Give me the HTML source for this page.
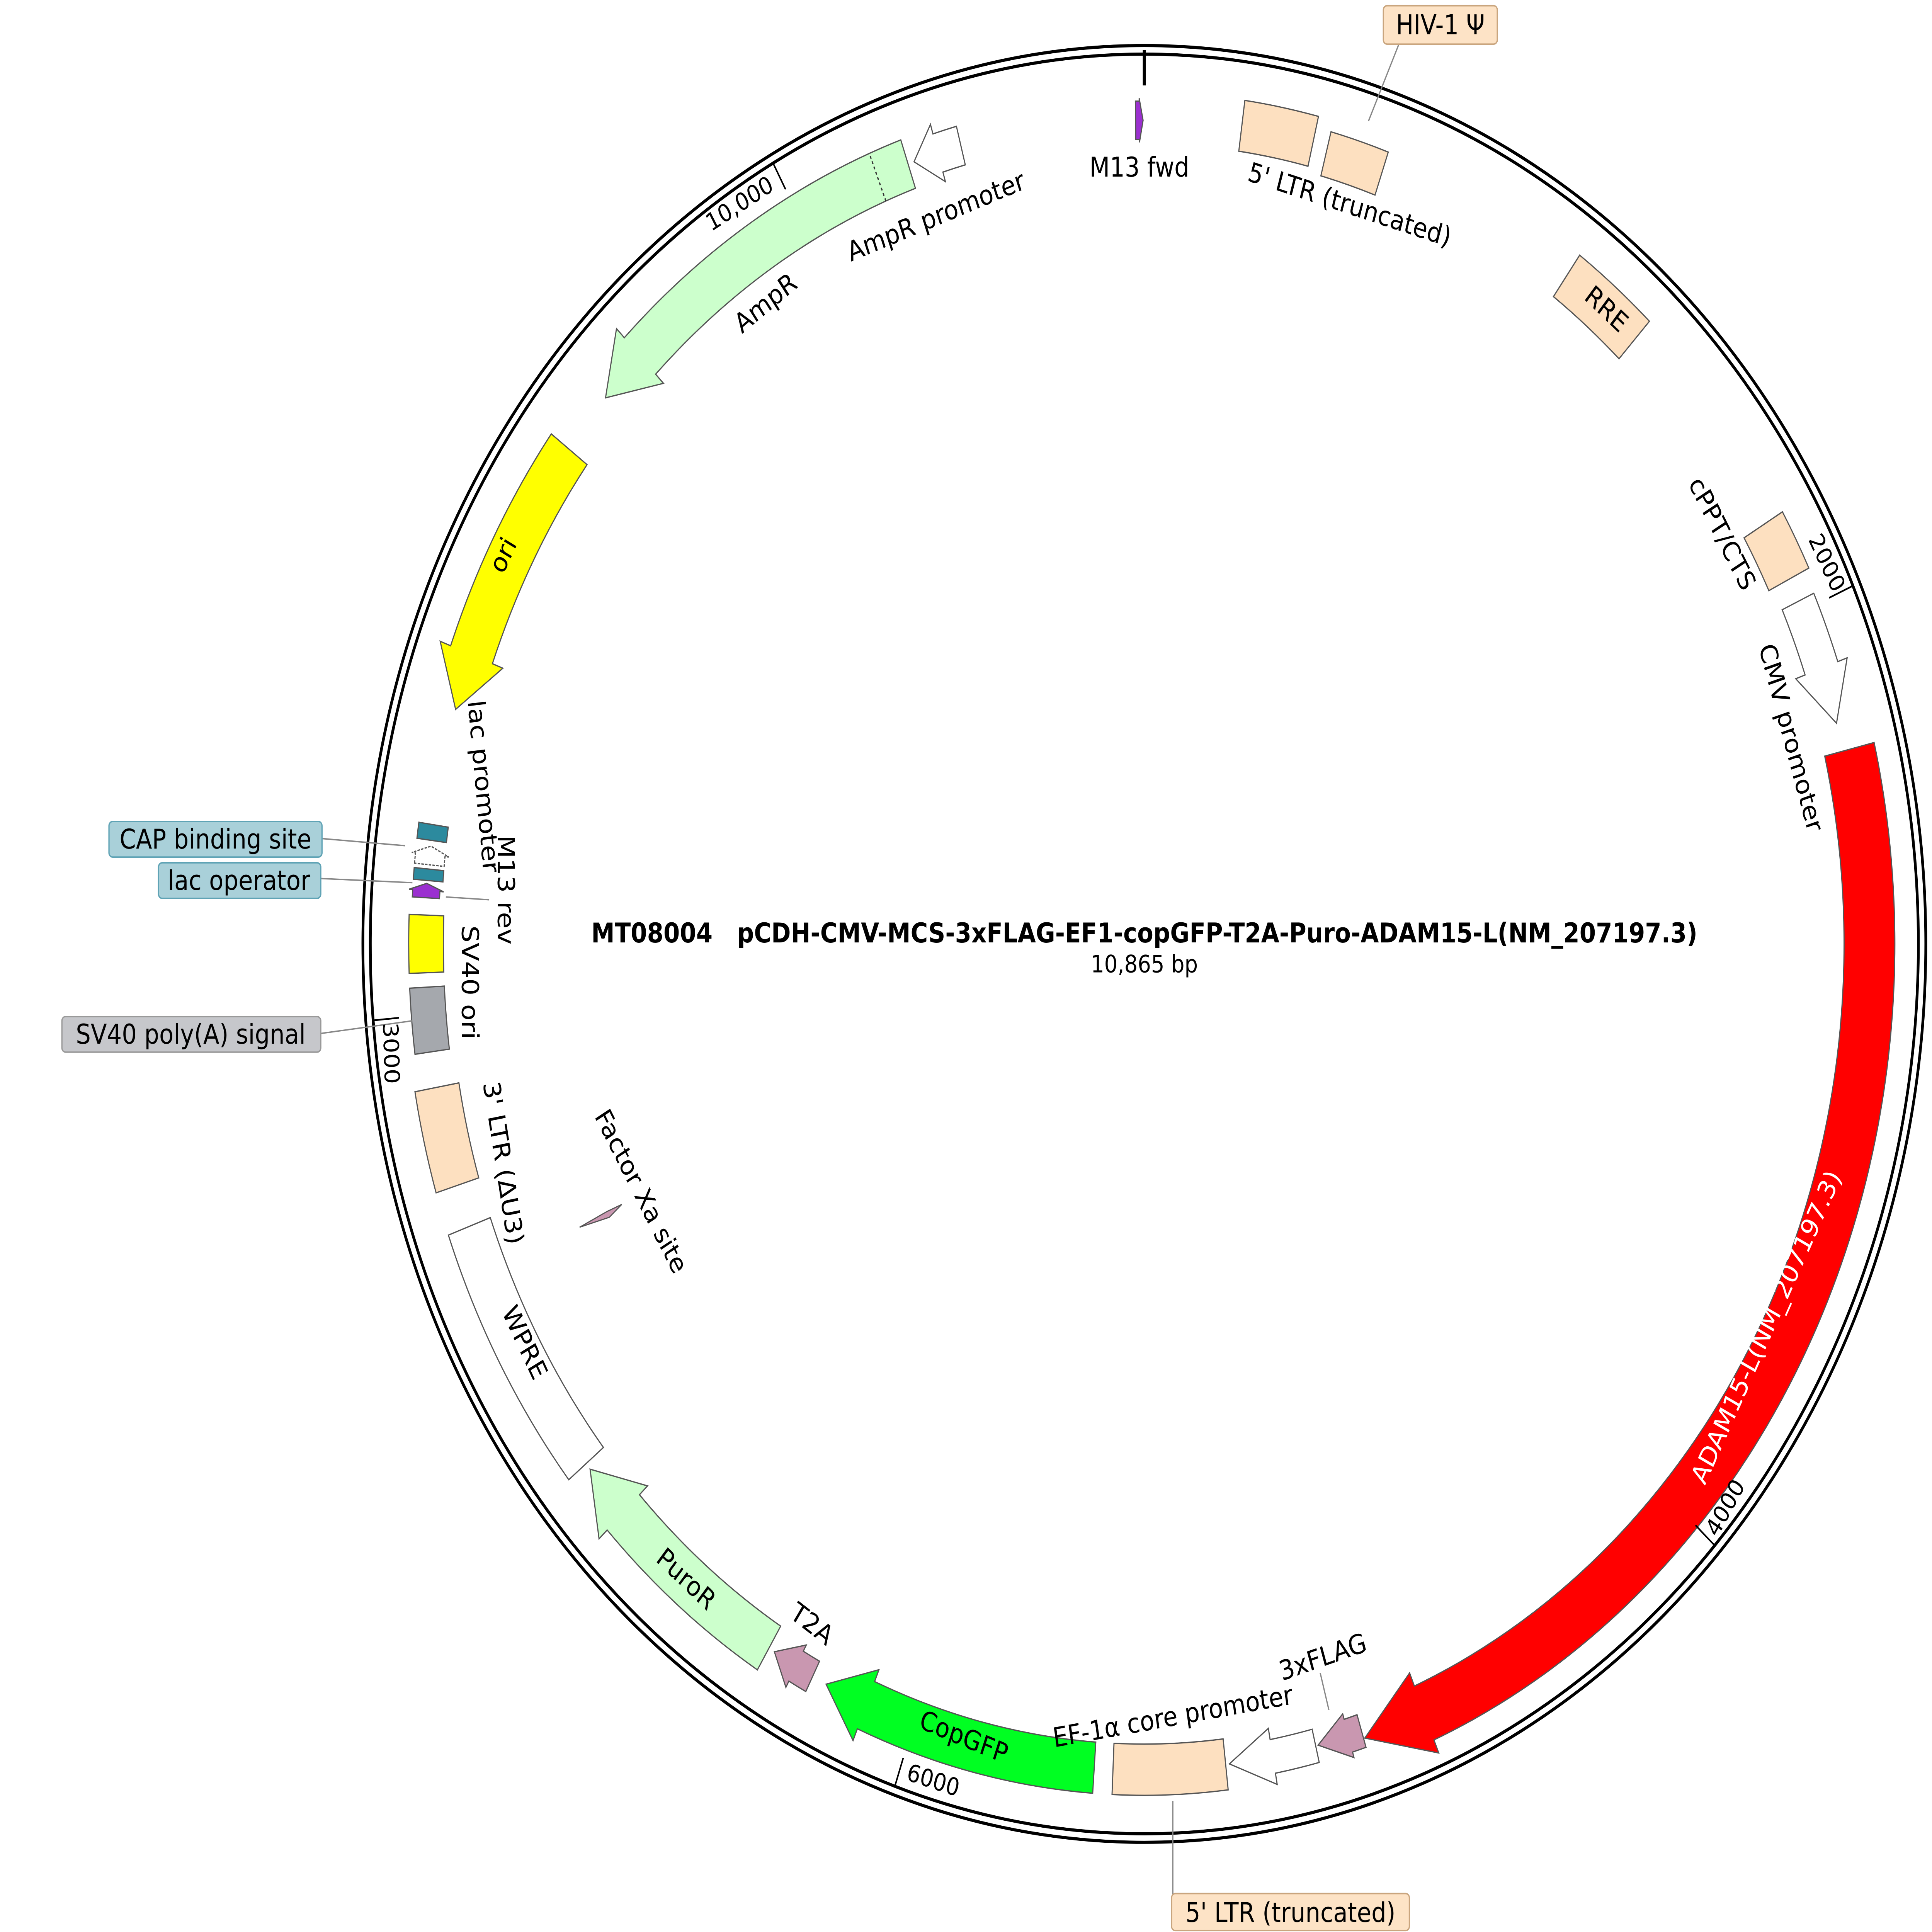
<!DOCTYPE html>
<html><head><meta charset="utf-8">
<style>
html,body{margin:0;padding:0;background:#fff;overflow:hidden;width:100%;height:100%;}
svg{display:block;position:fixed;left:0;top:0;width:100vw;height:100vh;}
text{font-family:"DejaVu Sans","Liberation Sans",sans-serif;fill:#000;}
</style></head>
<body>
<svg id="s" xmlns="http://www.w3.org/2000/svg" viewBox="0 0 1560 1357" preserveAspectRatio="none">
<rect x="0" y="0" width="1560" height="1357" fill="#fff"/>
<circle cx="924" cy="663" r="631" fill="none" stroke="#000" stroke-width="2.2"/>
<circle cx="924" cy="663" r="625" fill="none" stroke="#000" stroke-width="2.2"/>
<line x1="924" y1="35" x2="924" y2="60" stroke="#000" stroke-width="2.5"/>
<g id="f"></g>
<line x1="1105" y1="85" x2="1130" y2="30" stroke="#888" stroke-width="1"/>
<rect x="1117" y="4" width="92" height="27" rx="3" fill="#fde3c6" stroke="#c9a57e" stroke-width="1"/>
<text x="1163" y="24" font-size="19" text-anchor="middle">HIV-1 Ψ</text>
<line x1="947" y1="1265" x2="947" y2="1331" stroke="#888" stroke-width="1"/>
<rect x="946" y="1330" width="192" height="26" rx="3" fill="#fde3c6" stroke="#c9a57e" stroke-width="1"/>
<text x="1042" y="1350" font-size="19" text-anchor="middle">5' LTR (truncated)</text>
<line x1="1066" y1="1175" x2="1073" y2="1201" stroke="#888" stroke-width="1"/>
<line x1="260" y1="589" x2="327" y2="594" stroke="#888" stroke-width="1"/>
<rect x="88" y="577" width="172" height="25" rx="3" fill="#a9d0d9" stroke="#5fa3b5" stroke-width="1"/>
<text x="174" y="596" font-size="19" text-anchor="middle">CAP binding site</text>
<line x1="258" y1="617" x2="333" y2="620" stroke="#888" stroke-width="1"/>
<line x1="360" y1="630" x2="395" y2="632" stroke="#888" stroke-width="1"/>
<rect x="128" y="606" width="131" height="25" rx="3" fill="#a9d0d9" stroke="#5fa3b5" stroke-width="1"/>
<text x="193" y="625" font-size="19" text-anchor="middle">lac operator</text>
<line x1="258" y1="726" x2="333" y2="717" stroke="#888" stroke-width="1"/>
<rect x="50" y="714" width="209" height="25" rx="3" fill="#c6c7cb" stroke="#999" stroke-width="1"/>
<text x="154" y="733" font-size="19" text-anchor="middle">SV40 poly(A) signal</text>
<path d="M468,862 L490,851 L502,846 L492,855 Z" fill="#c997b0" stroke="#555" stroke-width="0.8"/>
<text x="924" y="662" font-size="19" font-weight="bold" text-anchor="middle" xml:space="preserve">MT08004   pCDH-CMV-MCS-3xFLAG-EF1-copGFP-T2A-Puro-ADAM15-L(NM_207197.3)</text>
<text x="924" y="683" font-size="17" text-anchor="middle">10,865 bp</text>
<g font-size="19">
<text x="920" y="124" text-anchor="middle">M13 fwd</text>
<text transform="translate(1088,150) rotate(16)" text-anchor="middle">5' LTR (truncated)</text>
<text transform="translate(1293,222) rotate(40)" text-anchor="middle">RRE</text>
<text transform="translate(1385,378) rotate(60)" text-anchor="middle">cPPT/CTS</text>
<text transform="translate(1470,398) rotate(62)" text-anchor="middle" font-size="17">2000</text>
<text transform="translate(1440,520) rotate(73)" text-anchor="middle">CMV promoter</text>
<text transform="translate(1432,935) rotate(-63)" text-anchor="middle" style="fill:#fff">ADAM15-L(NM_207197.3)</text>
<text transform="translate(1398,1062) rotate(-58)" text-anchor="middle" font-size="17">4000</text>
<text transform="translate(1070,1170) rotate(-17)" text-anchor="middle">3xFLAG</text>
<text transform="translate(948,1212) rotate(-9)" text-anchor="middle">EF-1α core promoter</text>
<text transform="translate(776,1226) rotate(20)" text-anchor="middle">CopGFP</text>
<text transform="translate(752,1256) rotate(16)" text-anchor="middle" font-size="17">6000</text>
<text transform="translate(652,1146) rotate(34)" text-anchor="middle">T2A</text>
<text transform="translate(550,1114) rotate(40)" text-anchor="middle">PuroR</text>
<text transform="translate(418,946) rotate(62)" text-anchor="middle">WPRE</text>
<text transform="translate(400,818) rotate(80)" text-anchor="middle">3' LTR (ΔU3)</text>
<text transform="translate(512,840) rotate(60)" text-anchor="middle">Factor Xa site</text>
<text transform="translate(310,740) rotate(88)" text-anchor="middle" font-size="17">3000</text>
<text transform="translate(373,690) rotate(90)" text-anchor="middle">SV40 ori</text>
<text transform="translate(402,625) rotate(90)" text-anchor="middle">M13 rev</text>
<text transform="translate(384,553) rotate(84)" text-anchor="middle">lac promoter</text>
<text transform="translate(412,393) rotate(-62)" text-anchor="middle">ori</text>
<text transform="translate(622,218) rotate(-36)" text-anchor="middle">AmpR</text>
<text transform="translate(758,158) rotate(-20)" text-anchor="middle">AmpR promoter</text>
<text transform="translate(600,148) rotate(-30)" text-anchor="middle" font-size="17">10,000</text>
</g>
</svg>
<script>
(function(){
var cx=924,cy=663,NS="http://www.w3.org/2000/svg",g=document.getElementById('f');
function P(r,a){var t=a*Math.PI/180;return (cx+r*Math.sin(t)).toFixed(2)+','+(cy-r*Math.cos(t)).toFixed(2);}
function add(d,fill,sw){var p=document.createElementNS(NS,'path');p.setAttribute('d',d);p.setAttribute('fill',fill);p.setAttribute('stroke','#555');p.setAttribute('stroke-width',sw||0.9);g.appendChild(p);return p;}
function box(a1,a2,r1,r2,fill){var l=(a2-a1)>180?1:0;
 return add('M'+P(r2,a1)+' A'+r2+','+r2+' 0 '+l+' 1 '+P(r2,a2)+' L'+P(r1,a2)+' A'+r1+','+r1+' 0 '+l+' 0 '+P(r1,a1)+' Z',fill);}
function arrow(a1,a2,r1,r2,fill,dir,h,w){h=h||4;w=w||9;var rm=(r1+r2)/2;
 if(dir>0){var b=a2-h;var l=(b-a1)>180?1:0;
  return add('M'+P(r2,a1)+' A'+r2+','+r2+' 0 '+l+' 1 '+P(r2,b)+' L'+P(r2+w,b)+' L'+P(rm,a2)+' L'+P(r1-w,b)+' L'+P(r1,b)+' A'+r1+','+r1+' 0 '+l+' 0 '+P(r1,a1)+' Z',fill);}
 else{var b=a1+h;var l=(a2-b)>180?1:0;
  return add('M'+P(r2,a2)+' A'+r2+','+r2+' 0 '+l+' 0 '+P(r2,b)+' L'+P(r2+w,b)+' L'+P(rm,a1)+' L'+P(r1-w,b)+' L'+P(r1,b)+' A'+r1+','+r1+' 0 '+l+' 1 '+P(r1,a2)+' Z',fill);}}
var R1=562,R2=598,peach='#fde0c0';
box(7.8,13.6,R1,R2,peach);
box(14.8,19.5,R1-4,R2-8,peach);
box(36,43,R1,R2,peach);
box(59.5,63.8,R1,R2,peach);
arrow(65.5,74.5,R1+4,R2-4,'#fff',1,4,8);
arrow(76.5,162.3,565,606,'#ff0000',1,5,10);
arrow(162.4,166,R1+6,R2-6,'#c997b0',1,2.5,4);
arrow(166.2,173.2,R1+6,R2-6,'#fff',1,3.5,8);
box(173.5,182.5,R1,R2,peach);
arrow(184,206.3,R1,R2,'#00ff22',1,3.5,9);
arrow(207.5,211,R1+6,R2-6,'#c997b0',1,2,5);
arrow(211.5,230.5,R1,R2,'#ccffcc',1,4,9);
box(231,250,R1,R2,'#fff');
box(253,260,R1,R2,peach);
box(262.5,267,R1+4,R2-4,'#a5a8ad');
box(268,272,R1+4,R2-4,'#ffff00');
arrow(273.2,274.2,R1+8,R2-6,'#9b30d0',1,0.5,3);
box(274.4,275.2,R1+6,R2-6,'#2c8a9e');
arrow(275.5,276.8,R1+6,R2-6,'#fff',1,0.6,3).setAttribute('stroke-dasharray','2,1');
box(277.2,278.3,R1+6,R2-6,'#2c8a9e');
arrow(286.5,306.8,R1,R2,'#ffff00',-1,4,9);
arrow(311.4,340.8,R1,R2,'#ccffcc',-1,4,9);
arrow(341.3,345.2,R1+4,R2-4,'#fff',-1,2,7);
var dl=document.createElementNS(NS,'path');dl.setAttribute('d','M'+P(R1,338.2)+' L'+P(R2,338.2));dl.setAttribute('stroke','#333');dl.setAttribute('stroke-dasharray','2,2');dl.setAttribute('stroke-width','1');g.appendChild(dl);
arrow(359.3,359.9,R1+3,R2-6,'#9b30d0',1,0.3,2);
[2000,4000,6000,8000,10000].forEach(function(b){var a=b/10865*360;var l=document.createElementNS(NS,'path');l.setAttribute('d','M'+P(624,a)+' L'+P(604,a));l.setAttribute('stroke','#000');l.setAttribute('stroke-width','1.2');g.appendChild(l);});
})();
</script>
</body></html>
